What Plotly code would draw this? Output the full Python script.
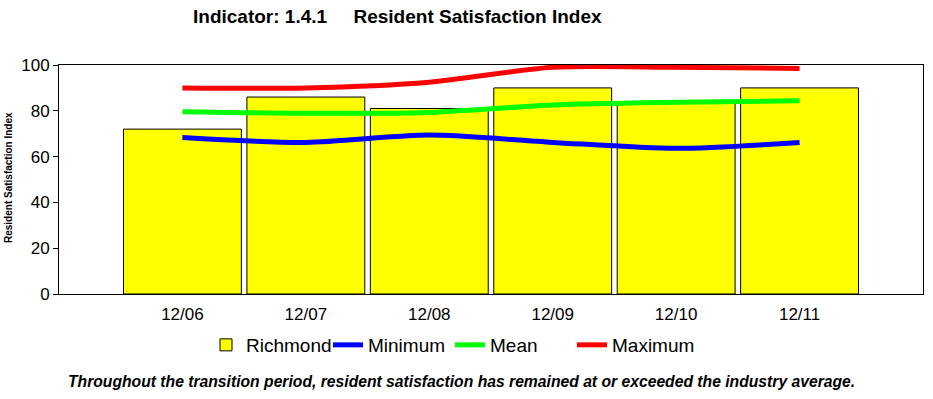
import plotly.graph_objects as go

categories = ["12/06", "12/07", "12/08", "12/09", "12/10", "12/11"]
richmond = [72, 86, 81, 90, 84, 90]
minimum = [68.3, 66.2, 69.4, 66.2, 63.6, 66.2]
mean = [79.6, 78.9, 79.3, 82.5, 83.7, 84.4]
maximum = [90, 90, 92.5, 99, 99, 98.5]
y_ticks = [0, 20, 40, 60, 80, 100]

FONT = "Liberation Sans, Arial, sans-serif"
PL, PT, PW, PH = 59, 65, 864, 229  # plot area in px


def px_x(x):
    return (x - PL) / PW


def px_y(y):
    return (PT + PH - y) / PH


fig = go.Figure()
fig.add_trace(go.Bar(
    x=categories, y=richmond, name="Richmond",
    marker=dict(color="#FFFF00", line=dict(color="black", width=1)),
))
fig.add_trace(go.Scatter(
    x=categories, y=minimum, name="Minimum", mode="lines",
    line=dict(color="#0000FF", width=5, shape="spline", smoothing=0.8),
))
fig.add_trace(go.Scatter(
    x=categories, y=mean, name="Mean", mode="lines",
    line=dict(color="#00FF00", width=5, shape="spline", smoothing=0.8),
))
fig.add_trace(go.Scatter(
    x=categories, y=maximum, name="Maximum", mode="lines",
    line=dict(color="#FF0000", width=5, shape="spline", smoothing=0.8),
))

fig.update_layout(
    width=933, height=399,
    margin=dict(l=PL, r=933 - PL - PW, t=PT, b=399 - PT - PH, autoexpand=False),
    paper_bgcolor="white", plot_bgcolor="white",
    font=dict(family=FONT, color="black"),
    bargap=0.045,
    showlegend=True,
    legend=dict(
        orientation="h", x=px_x(206), xanchor="left", y=px_y(345), yanchor="middle",
        font=dict(size=19, family=FONT), entrywidth=77, entrywidthmode="pixels",
        traceorder="normal", bgcolor="rgba(0,0,0,0)", itemclick=False,
    ),
    xaxis=dict(
        type="category", range=[-1, 6], showgrid=False, ticks="", automargin=False,
        showline=True, mirror=True, linecolor="black", linewidth=1,
        tickfont=dict(size=17, family=FONT), ticklabelstandoff=5,
    ),
    yaxis=dict(
        range=[0, 100], tickvals=y_ticks, showgrid=False, zeroline=False, automargin=False,
        ticks="outside", ticklen=5, tickcolor="black",
        showline=True, mirror=True, linecolor="black", linewidth=1,
        tickfont=dict(size=17, family=FONT),
    ),
    annotations=[
        dict(text="<b>Resident Satisfaction Index</b>", textangle=-90,
             xref="paper", yref="paper", x=px_x(8), y=px_y(178),
             xanchor="center", yanchor="middle", showarrow=False,
             font=dict(size=10, family=FONT)),
        dict(text="<b>Indicator: 1.4.1\u00a0\u00a0\u00a0\u00a0\u00a0Resident Satisfaction Index</b>",
             xref="paper", yref="paper", x=px_x(397), y=px_y(17),
             xanchor="center", yanchor="middle", showarrow=False,
             font=dict(size=19, family=FONT)),
        dict(text="<b><i>Throughout the transition period, resident satisfaction has remained at or exceeded the industry average.</i></b>",
             xref="paper", yref="paper", x=px_x(461), y=px_y(381),
             xanchor="center", yanchor="middle", showarrow=False,
             font=dict(size=15.7, family=FONT)),
    ],
)

fig.write_html("out.html", config={"displayModeBar": False},
               post_script="document.body.style.margin='0';")
